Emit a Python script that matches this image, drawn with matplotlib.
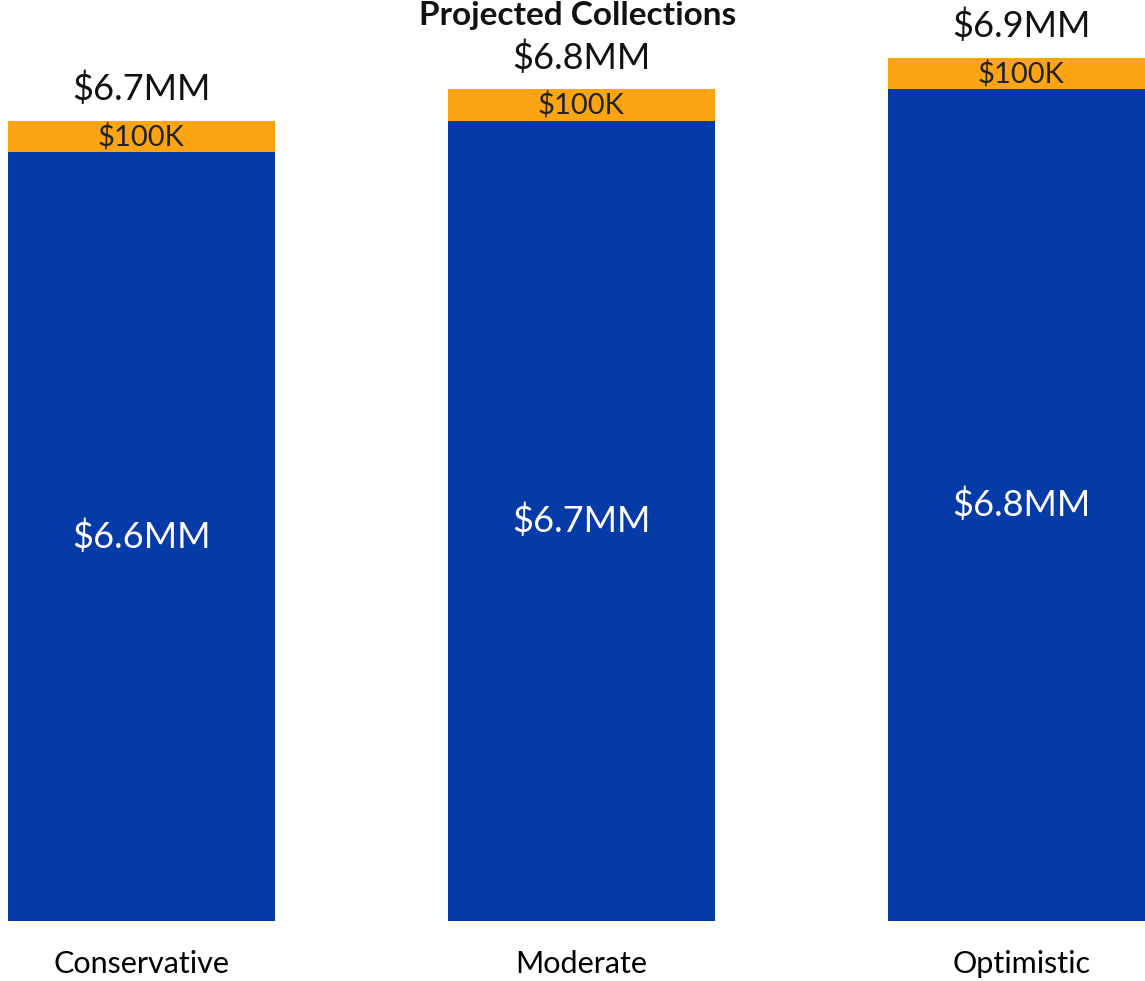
import numpy as np
import matplotlib.pyplot as plt

# chart data ($MM)
scenarios = ["Conservative", "Moderate", "Optimistic"]
base_collections = [6.6, 6.7, 6.8]
extra_collections = [0.1, 0.1, 0.1]
extra_labels = ["$100K", "$100K", "$100K"]

BLUE = "#053ba6"
ORANGE = "#fca412"

plt.rcParams['font.family'] = ['Lato', 'DejaVu Sans']

fig = plt.figure(figsize=(11.45, 9.81), dpi=100)
ax = fig.add_axes([0, 0.0612, 1, 0.9388])

x = np.arange(len(scenarios))
base = np.array(base_collections)
extra = np.array(extra_collections)
totals = base + extra

ax.bar(x, base, width=0.607, color=BLUE)
ax.bar(x, extra, width=0.607, bottom=base, color=ORANGE)

ax.set_xlim(-0.321, 2.281)
ax.set_ylim(4.16, 7.084)
y0 = ax.get_ylim()[0]

for xi, b, e, lab, t in zip(x, base, extra, extra_labels, totals):
    # value inside the blue segment
    ax.text(xi, (y0 + b) / 2, f"${b:.1f}MM", color="white", fontsize=26,
            ha="center", va="center")
    # orange segment label
    ax.text(xi, b + e / 2, lab, color="#222222", fontsize=21,
            ha="center", va="center")
    # total above the bar
    ax.annotate(f"${t:.1f}MM", (xi, t), xytext=(0, 23), textcoords="offset points",
                fontsize=26, ha="center", va="center", color="#111111",
                annotation_clip=False)

ax.set_xticks(x)
ax.set_xticklabels(scenarios, fontsize=22)
ax.tick_params(axis="x", length=0, pad=21)
ax.set_yticks([])
for s in ax.spines.values():
    s.set_visible(False)

fig.text(578 / 1145, 1 - 15 / 981, "Projected Collections", fontsize=24,
         fontweight="bold", ha="center", va="center", color="#111111")

fig.savefig("out.png", dpi=100)
